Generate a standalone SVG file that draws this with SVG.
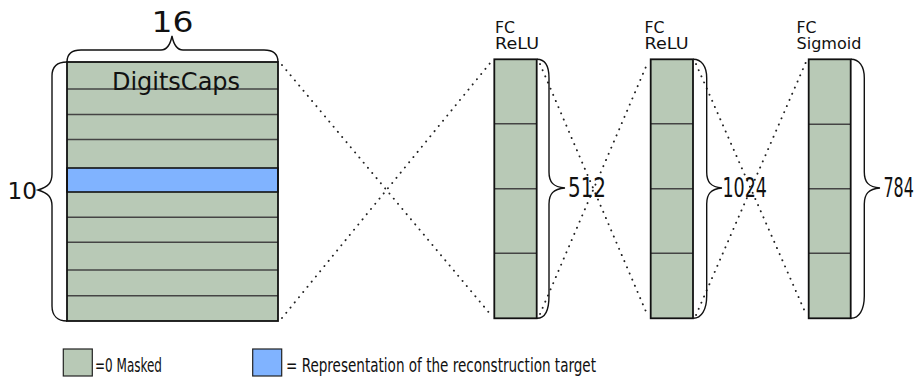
<svg xmlns="http://www.w3.org/2000/svg" width="924" height="380" viewBox="0 0 924 380">
  <style>
    .cell { fill: #b8c9b6; }
    .target { fill: #80b3ff; stroke: #111; stroke-width: 1.6; }
    .frame { fill: none; stroke: #111; stroke-width: 1.8; }
    .sep { stroke: #444; stroke-width: 1.4; }
    .brace { fill: none; stroke: #111; stroke-width: 1.4; }
    .dots { fill: none; stroke: #222; stroke-width: 1.9; stroke-linecap: round; stroke-dasharray: 0.1 6.6; }
    .lbl { font-family: "DejaVu Sans", Verdana, sans-serif; fill: #111; }
    .num { font-family: "DejaVu Sans Condensed", "DejaVu Sans", sans-serif; fill: #111; }
  </style>

  <!-- dotted fan-in / fan-out between layers -->
  <g id="connectors">
    <line class="dots" x1="282" y1="65" x2="491" y2="315"/>
    <line class="dots" x1="282" y1="318" x2="491" y2="62"/>
    <line class="dots" x1="540" y1="64" x2="647" y2="314"/>
    <line class="dots" x1="540" y1="314" x2="648" y2="62"/>
    <line class="dots" x1="696" y1="64" x2="806" y2="314"/>
    <line class="dots" x1="696" y1="315" x2="806" y2="62"/>
  </g>

  <!-- DigitsCaps: 10 capsules x 16 dimensions -->
  <g id="digitscaps">
    <rect class="cell" x="67" y="62" width="211" height="259"/>
    <rect class="target" x="67" y="168" width="211" height="24"/>
    <line class="sep" x1="67" y1="89" x2="278" y2="89"/>
    <line class="sep" x1="67" y1="114.5" x2="278" y2="114.5"/>
    <line class="sep" x1="67" y1="139.5" x2="278" y2="139.5"/>
    <line class="sep" x1="67" y1="217.3" x2="278" y2="217.3"/>
    <line class="sep" x1="67" y1="242.3" x2="278" y2="242.3"/>
    <line class="sep" x1="67" y1="270" x2="278" y2="270"/>
    <line class="sep" x1="67" y1="295.7" x2="278" y2="295.7"/>
    <rect class="frame" x="67" y="62" width="211" height="259"/>
    <text class="lbl" x="176" y="90" font-size="24" text-anchor="middle">DigitsCaps</text>
    <path class="brace" d="M67,62 C67,54 71,50 81,50 L161,50 C166,50 170,46 172,36 C174,46 178,50 183,50 L264,50 C274,50 278,54 278,62"/>
    <text class="lbl" x="151.5" y="31.5" font-size="28" textLength="42" lengthAdjust="spacingAndGlyphs">16</text>
    <path class="brace" d="M67,62 C58,62 52,66 52,76 L52,174 C52,183 48,187 38,190 C48,193 52,197 52,206 L52,306 C52,316 58,321 67,321"/>
    <text class="lbl" x="7.5" y="198.5" font-size="23" textLength="29.5" lengthAdjust="spacingAndGlyphs">10</text>
  </g>

  <!-- first fully connected layer -->
  <g id="fc1">
    <rect class="cell" x="494.3" y="59.3" width="42.4" height="259"/>
    <line class="sep" x1="494.3" y1="123.7" x2="536.7" y2="123.7"/>
    <line class="sep" x1="494.3" y1="188.7" x2="536.7" y2="188.7"/>
    <line class="sep" x1="494.3" y1="253.3" x2="536.7" y2="253.3"/>
    <rect class="frame" x="494.3" y="59.3" width="42.4" height="259"/>
    <text class="lbl" x="495" y="32.7" font-size="15" textLength="20" lengthAdjust="spacingAndGlyphs">FC</text>
    <text class="lbl" x="495" y="49.3" font-size="15" textLength="44" lengthAdjust="spacingAndGlyphs">ReLU</text>
    <path class="brace" d="M537,59.3 C545,59.3 549,66 549,78 L549,172 C549,182 553,187 565,188 C553,189 549,194 549,204 L549,296 C549,310 545,318.3 537,318.3"/>
    <text class="num" x="568" y="196.5" font-size="27" textLength="38" lengthAdjust="spacingAndGlyphs">512</text>
  </g>

  <!-- second fully connected layer -->
  <g id="fc2">
    <rect class="cell" x="650.7" y="59.3" width="42.3" height="259"/>
    <line class="sep" x1="650.7" y1="123.7" x2="693" y2="123.7"/>
    <line class="sep" x1="650.7" y1="188.7" x2="693" y2="188.7"/>
    <line class="sep" x1="650.7" y1="253.3" x2="693" y2="253.3"/>
    <rect class="frame" x="650.7" y="59.3" width="42.3" height="259"/>
    <text class="lbl" x="644.5" y="32.7" font-size="15" textLength="20" lengthAdjust="spacingAndGlyphs">FC</text>
    <text class="lbl" x="644.5" y="49.3" font-size="15" textLength="44" lengthAdjust="spacingAndGlyphs">ReLU</text>
    <path class="brace" d="M693.3,59.3 C701.3,59.3 706.7,66 706.7,78 L706.7,172 C706.7,182 710.7,187 722,188 C710.7,189 706.7,194 706.7,204 L706.7,296 C706.7,310 701.3,318.3 693.3,318.3"/>
    <text class="num" x="722.5" y="196.5" font-size="27" textLength="44.5" lengthAdjust="spacingAndGlyphs">1024</text>
  </g>

  <!-- output layer -->
  <g id="fc3">
    <rect class="cell" x="808.7" y="59.3" width="42" height="259"/>
    <line class="sep" x1="808.7" y1="124.3" x2="850.7" y2="124.3"/>
    <line class="sep" x1="808.7" y1="188.7" x2="850.7" y2="188.7"/>
    <line class="sep" x1="808.7" y1="253.3" x2="850.7" y2="253.3"/>
    <rect class="frame" x="808.7" y="59.3" width="42" height="259"/>
    <text class="lbl" x="796.5" y="32.7" font-size="15" textLength="20" lengthAdjust="spacingAndGlyphs">FC</text>
    <text class="lbl" x="796.5" y="49.3" font-size="15" textLength="65" lengthAdjust="spacingAndGlyphs">Sigmoid</text>
    <path class="brace" d="M851,59.3 C859,59.3 864.3,66 864.3,78 L864.3,172 C864.3,182 868.3,187 880,188 C868.3,189 864.3,194 864.3,204 L864.3,296 C864.3,310 859,318.3 851,318.3"/>
    <text class="num" transform="translate(883.5,196.5) scale(0.68,1)" font-size="26">784</text>
  </g>

  <!-- legend -->
  <g id="legend-masked">
    <rect class="cell" x="63.3" y="349" width="29" height="27" stroke="#222" stroke-width="1.2"/>
    <text class="num" x="95" y="372" font-size="19" textLength="67" lengthAdjust="spacingAndGlyphs">=0 Masked</text>
  </g>
  <g id="legend-target">
    <rect x="252.7" y="349" width="29" height="27" fill="#80b3ff" stroke="#222" stroke-width="1.2"/>
    <text class="num" x="286" y="372" font-size="19" textLength="310" lengthAdjust="spacingAndGlyphs">= Representation of the reconstruction target</text>
  </g>
</svg>
